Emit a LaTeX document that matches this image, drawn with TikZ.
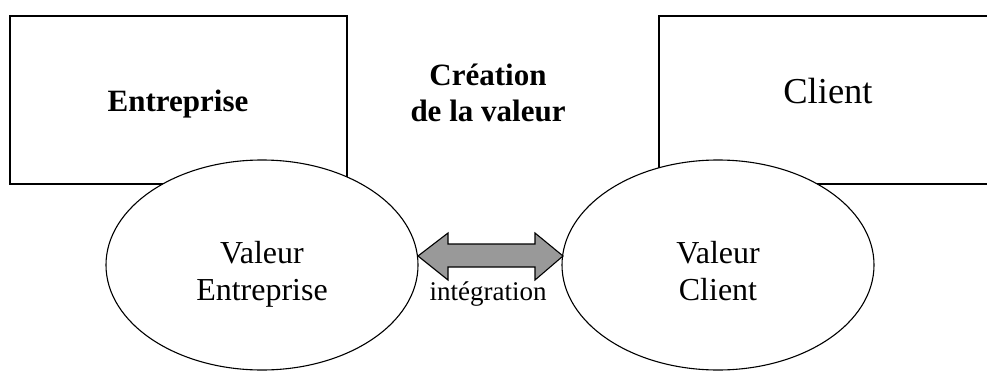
\documentclass[tikz,border=0pt]{standalone}
\usepackage{fontspec}
\setmainfont{Liberation Serif}
\usetikzlibrary{shapes.geometric}
\begin{document}
\begin{tikzpicture}[x=1pt,y=-1pt,
  boxshape/.style={draw,line width=1.1pt},
  ellshape/.style={ellipse,draw,fill=white,line width=1.1pt,minimum width=312pt,minimum height=210pt,inner sep=0pt},
  bigtxt/.style={font=\fontsize{32}{37}\selectfont,align=center,inner sep=0pt},
  boldtxt/.style={font=\fontsize{31}{36}\selectfont\bfseries,align=center,inner sep=0pt},
  smalltxt/.style={font=\fontsize{27}{31}\selectfont,inner sep=0pt}]
\clip (0,0) rectangle (987,372);
\fill[white] (0,0) rectangle (987,372);
% boxes
\draw[boxshape] (10,16) rectangle (347,184);
\draw[boxshape] (659,16) rectangle (1000,184);
\node[boldtxt,anchor=base] (ent) at (178,111) {Entreprise};
\node[font=\fontsize{36.5}{40}\selectfont,inner sep=0pt,anchor=base] (cli) at (828,103) {Client};
\node[boldtxt] (crea) at (488,93) {Création\\de la valeur};
% ellipses
\node[ellshape] (ve) at (262,265) {};
\node[ellshape] (vc) at (718,265) {};
\node[bigtxt] (vet) at (262,274) {Valeur\\Entreprise};
\node[bigtxt] (vct) at (718,271) {Valeur\\Client};
% double arrow
\coordinate (tl) at (418,256);
\coordinate (tr) at (563,256);
\draw[line width=1.1pt,fill=black!40,line join=miter]
  (tl) -- ++(30,-23) -- ++(0,11) -- ++(87,0) -- ++(0,-11) -- (tr)
  -- ++(-28,24) -- ++(0,-13) -- ++(-87,0) -- ++(0,13) -- cycle;
\node[smalltxt,anchor=base] (integ) at (488,300) {intégration};
\end{tikzpicture}
\end{document}
